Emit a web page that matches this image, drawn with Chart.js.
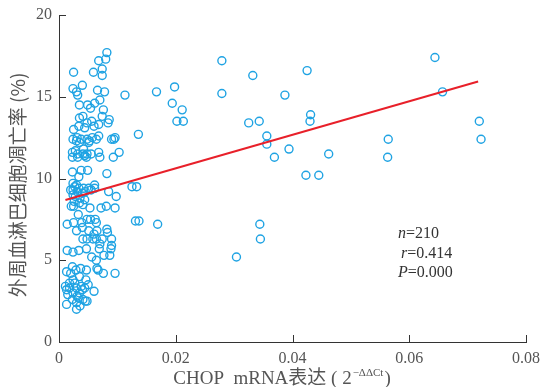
<!DOCTYPE html>
<html>
<head>
<meta charset="utf-8">
<script src="https://cdn.jsdelivr.net/npm/chart.js@4.4.1/dist/chart.umd.min.js"></script>
<style>
  html, body { margin: 0; padding: 0; background: #fff; }
  #wrap { width: 542px; height: 387px; }
</style>
</head>
<body>
<div id="wrap"><canvas id="chart" width="542" height="387"></canvas></div>
<script>
// CHOP mRNA expression (2^-ddCt) per patient
const chopExpr = [
  0.0279, 0.0332, 0.0425, 0.0113, 0.0167, 0.0198, 0.0194, 0.0211, 0.0202, 0.0213,
  0.0279, 0.0387, 0.0325, 0.0343, 0.0431, 0.0430, 0.0136, 0.0356, 0.0356, 0.0394,
  0.0369, 0.0423, 0.0445, 0.0125, 0.0133, 0.0131, 0.0137, 0.0169, 0.0344, 0.0345,
  0.0304, 0.0644, 0.0657, 0.0720, 0.0723, 0.0564, 0.0563, 0.0462,
  0.0082, 0.0080, 0.0068, 0.0074, 0.0074, 0.0059, 0.0025, 0.0024, 0.0040, 0.0030,
  0.0032, 0.0066, 0.0078, 0.0070, 0.0035, 0.0049, 0.0054, 0.0061, 0.0076, 0.0074,
  0.0086, 0.0084, 0.0035, 0.0041, 0.0048, 0.0034, 0.0060, 0.0068, 0.0056, 0.0024,
  0.0031, 0.0038, 0.0048, 0.0057, 0.0064, 0.0068, 0.0090, 0.0094, 0.0096, 0.0035,
  0.0051, 0.0042, 0.0023, 0.0032, 0.0041, 0.0048, 0.0055, 0.0068, 0.0070, 0.0023,
  0.0032, 0.0047, 0.0093, 0.0103, 0.0038, 0.0049, 0.0023, 0.0082, 0.0034, 0.0024,
  0.0027, 0.0034, 0.0042, 0.0051, 0.0061, 0.0061, 0.0024, 0.0031, 0.0024, 0.0040,
  0.0085, 0.0098, 0.0026, 0.0035, 0.0044, 0.0021, 0.0025, 0.0041, 0.0053, 0.0072,
  0.0081, 0.0096, 0.0033, 0.0014, 0.0025, 0.0039, 0.0048, 0.0054, 0.0062, 0.0064,
  0.0030, 0.0051, 0.0065, 0.0082, 0.0083, 0.0041, 0.0048, 0.0058, 0.0064, 0.0074,
  0.0090, 0.0090, 0.0089, 0.0047, 0.0069, 0.0014, 0.0024, 0.0034, 0.0077, 0.0087,
  0.0064, 0.0065, 0.0067, 0.0076, 0.0096, 0.0047, 0.0023, 0.0013, 0.0029, 0.0037,
  0.0046, 0.0035, 0.0024, 0.0018, 0.0011, 0.0018, 0.0030, 0.0038, 0.0044, 0.0013,
  0.0024, 0.0035, 0.0060, 0.0015, 0.0031, 0.0041, 0.0048, 0.0023, 0.0030, 0.0013,
  0.0030, 0.0036, 0.0020, 0.0030, 0.0045, 0.0055, 0.0028, 0.0036, 0.0028, 0.0044,
  0.0052, 0.0030, 0.0020, 0.0027, 0.0040, 0.0033, 0.0050, 0.0045, 0.0060, 0.0040,
  0.0056, 0.0070, 0.0025, 0.0044
];

// peripheral blood lymphocyte apoptosis rate (%), same order
const apoptosisRate = [
  17.2, 16.3, 16.6, 15.1, 15.3, 15.6, 14.6, 14.2, 13.5, 13.5,
  15.2, 15.1, 13.4, 13.5, 13.9, 13.5, 12.7, 12.6, 12.1, 11.8,
  11.3, 10.2, 10.2, 9.5, 9.5, 7.4, 7.4, 7.2, 7.2, 6.3,
  5.2, 17.4, 15.3, 13.5, 12.4, 12.4, 11.3, 11.5,
  17.7, 17.3, 17.2, 16.7, 16.3, 16.5, 16.5, 15.5, 15.7, 15.3,
  15.1, 15.4, 15.3, 14.8, 14.5, 14.5, 14.3, 14.6, 14.2, 13.8,
  13.6, 13.4, 13.7, 13.8, 13.4, 13.2, 13.2, 13.3, 13.5, 12.4,
  12.5, 12.4, 12.4, 12.5, 12.4, 12.6, 12.4, 12.4, 12.5, 12.2,
  12.2, 11.8, 11.6, 11.5, 11.5, 11.5, 11.5, 11.6, 11.3, 11.3,
  11.3, 11.3, 11.3, 11.6, 10.5, 10.5, 10.4, 10.3, 10.1, 9.7,
  9.5, 9.4, 9.4, 9.4, 9.4, 9.6, 9.3, 9.2, 9.0, 9.1,
  9.2, 8.9, 8.6, 8.5, 8.7, 8.3, 8.3, 8.4, 8.2, 8.2,
  8.3, 8.2, 7.8, 7.2, 7.3, 7.3, 7.5, 7.5, 7.5, 7.3,
  6.8, 6.8, 6.8, 6.9, 6.7, 6.3, 6.3, 6.3, 6.3, 6.3,
  6.3, 5.9, 5.7, 5.7, 5.7, 5.6, 5.5, 5.6, 5.3, 5.3,
  5.0, 4.5, 4.4, 4.2, 4.2, 4.4, 4.6, 4.3, 4.4, 4.5,
  3.8, 4.0, 3.8, 3.6, 3.4, 3.3, 3.3, 3.4, 3.3, 3.2,
  3.0, 3.0, 3.1, 2.9, 2.8, 2.6, 2.5, 2.6, 2.4, 2.3,
  2.0, 2.2, 9.3, 9.6, 9.2, 9.3, 8.9, 8.8, 11.7, 11.4,
  12.3, 12.3, 4.2, 3.6, 3.2, 2.7, 3.5, 2.5, 6.6, 7.0,
  5.2, 6.0, 13.0, 13.1
];

// fitted regression line end points
const fitX = [0.0011, 0.0718];
const fitY = [8.68, 15.93];

const xTicks = [0, 0.02, 0.04, 0.06, 0.08];
const yTicks = [0, 5, 10, 15, 20];

const statLines = [
  { name: 'n', value: '=210' },
  { name: 'r', value: '=0.414' },
  { name: 'P', value: '=0.000' }
];

const yTitle = '外周血淋巴细胞凋亡率 (%)';

const AXIS = '#333';
const TEXT = '#555';
const SERIF = '"Liberation Serif", "DejaVu Serif", serif';

// inward ticks, axis titles and the stats note
const decorPlugin = {
  id: 'decor',
  afterDraw(chart) {
    const ctx = chart.ctx;
    const xs = chart.scales.x;
    const ys = chart.scales.y;
    const area = chart.chartArea;
    ctx.save();
    ctx.strokeStyle = AXIS;
    ctx.lineWidth = 1;
    ctx.beginPath();
    xTicks.forEach(v => {
      const px = Math.round(xs.getPixelForValue(v)) + 0.5;
      ctx.moveTo(px, area.bottom);
      ctx.lineTo(px, area.bottom - 7);
    });
    yTicks.forEach(v => {
      const py = Math.round(ys.getPixelForValue(v)) + 0.5;
      ctx.moveTo(area.left, py);
      ctx.lineTo(area.left + 7, py);
    });
    ctx.stroke();

    // x title with superscript
    ctx.fillStyle = TEXT;
    ctx.textBaseline = 'alphabetic';
    ctx.textAlign = 'left';
    const main = 'CHOP  mRNA表达 ( 2';
    ctx.font = '19px ' + SERIF + ', "Noto Sans CJK SC"';
    const w1 = ctx.measureText(main).width;
    ctx.font = '11px ' + SERIF;
    const sup = '−ΔΔCt';
    const w2 = ctx.measureText(sup).width;
    ctx.font = '19px ' + SERIF;
    const w3 = ctx.measureText(')').width;
    let x0 = 282 - (w1 + w2 + w3 + 2) / 2;
    const base = 384;
    ctx.font = '19px ' + SERIF + ', "Noto Sans CJK SC"';
    ctx.fillText(main, x0, base);
    ctx.font = '11px ' + SERIF;
    ctx.fillText(sup, x0 + w1 + 1, base - 8);
    ctx.font = '19px ' + SERIF;
    ctx.fillText(')', x0 + w1 + w2 + 2, base);

    // y title, rotated
    ctx.save();
    ctx.translate(18, 185);
    ctx.rotate(-Math.PI / 2);
    ctx.textAlign = 'center';
    ctx.textBaseline = 'middle';
    ctx.font = '19px "Noto Sans CJK SC", ' + SERIF;
    ctx.fillText(yTitle, 0, 0);
    ctx.restore();

    // stats note
    ctx.fillStyle = '#333';
    ctx.textBaseline = 'middle';
    statLines.forEach((s, i) => {
      const y = 234 + i * 19.5;
      let x = i === 1 ? 401 : 398;
      ctx.font = 'italic 16px ' + SERIF;
      ctx.fillText(s.name, x, y);
      x += ctx.measureText(s.name).width;
      ctx.font = '16px ' + SERIF;
      ctx.fillText(s.value, x, y);
    });
    ctx.restore();
  }
};

const points = chopExpr.map((v, i) => ({ x: v, y: apoptosisRate[i] }));
const fitLine = fitX.map((v, i) => ({ x: v, y: fitY[i] }));

new Chart(document.getElementById('chart'), {
  type: 'scatter',
  data: {
    datasets: [
      {
        type: 'line',
        data: fitLine,
        borderColor: '#e8202a',
        borderWidth: 2,
        pointRadius: 0,
        fill: false,
        order: 0
      },
      {
        data: points,
        pointStyle: 'circle',
        pointRadius: 4,
        pointBorderWidth: 1.4,
        pointBorderColor: '#1fa3e3',
        pointBackgroundColor: 'rgba(0,0,0,0)',
        order: 1
      }
    ]
  },
  options: {
    responsive: false,
    animation: false,
    layout: { padding: { left: 0, right: 16, top: 15, bottom: 0 } },
    plugins: {
      legend: { display: false },
      tooltip: { enabled: false }
    },
    scales: {
      x: {
        type: 'linear',
        min: 0,
        max: 0.08,
        afterFit(scale) {
          scale.height = 45;
          scale.paddingLeft = 0;
          scale.paddingRight = 0;
        },
        afterBuildTicks(scale) { scale.ticks = xTicks.map(v => ({ value: v })); },
        grid: { display: false, drawTicks: false },
        border: { display: true, color: AXIS, width: 1 },
        ticks: {
          padding: 7,
          color: TEXT,
          font: { family: SERIF, size: 16 },
          callback: v => (v === 0 ? '0' : v.toFixed(2))
        }
      },
      y: {
        type: 'linear',
        min: 0,
        max: 20,
        afterFit(scale) {
          scale.width = 59;
          scale.paddingTop = 0;
          scale.paddingBottom = 0;
        },
        afterBuildTicks(scale) { scale.ticks = yTicks.map(v => ({ value: v })); },
        grid: { display: false, drawTicks: false },
        border: { display: true, color: AXIS, width: 1 },
        ticks: {
          padding: 7,
          color: TEXT,
          font: { family: SERIF, size: 16 }
        }
      }
    }
  },
  plugins: [decorPlugin]
});
</script>
</body>
</html>
